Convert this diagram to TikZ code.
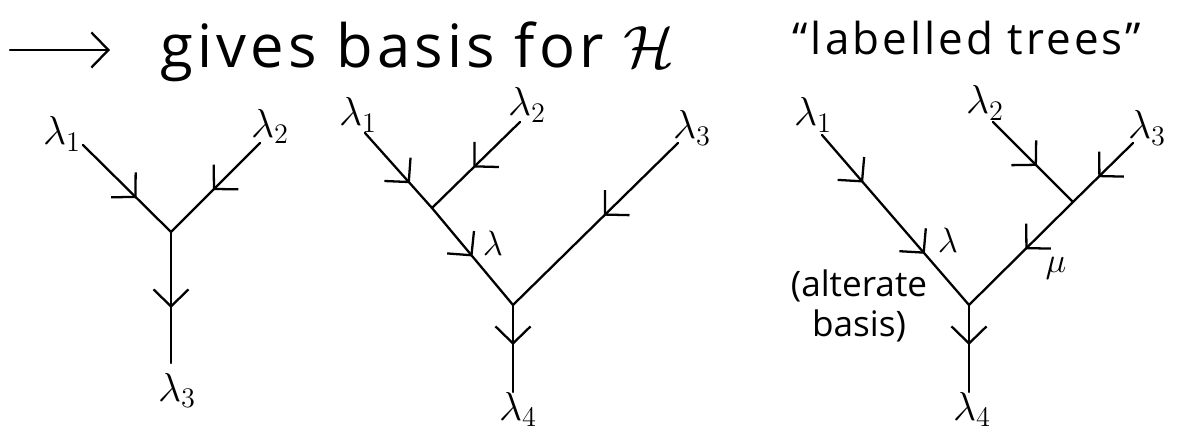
\documentclass[tikz,border=0pt]{standalone}
\usepackage{fix-cm}
\usepackage{fontspec}
\setmainfont{Open Sans}
\newfontfamily\handfont[LetterSpace=7]{Open Sans}
\usetikzlibrary{arrows.meta,decorations.markings}

\begin{document}
\begin{tikzpicture}[
  x=0.2mm,y=-0.2mm,
  edge/.style={line width=1.3pt,line cap=round,line join=round},
  midarr/.style={postaction={decorate,decoration={markings,
    mark=at position #1 with {\arrow{Straight Barb[length=3.4mm,width=7mm]}}}}},
  lab/.style={inner sep=1pt,font=\fontsize{23}{28}\selectfont},
  sml/.style={inner sep=1pt,font=\fontsize{20}{24}\selectfont},
  head/.style={inner sep=0pt,anchor=base west},
]
\useasboundingbox (0,0) rectangle (1178,434);

% heading
\coordinate (arrs) at (10,50);
\coordinate (arre) at (110,50);
\draw[edge,-{Straight Barb[length=3.4mm,width=7mm]}] (arrs) -- (arre);
\node[head,font=\handfont\fontsize{34}{40}\selectfont] (gives) at (160,68) {gives basis for $\mathcal{H}$};
\node[head,font=\handfont\fontsize{25}{30}\selectfont] (trees) at (792,55) {“labelled trees”};

% first tree
\node[lab] (t1l1) at (62,134) {$\lambda_1$};
\node[lab] (t1l2) at (270,126) {$\lambda_2$};
\node[lab] (t1l3) at (177,390) {$\lambda_3$};
\coordinate (t1a) at (83,145);
\coordinate (t1b) at (260,143);
\coordinate (t1j) at (171,232);
\coordinate (t1r) at (171,363);

% second tree
\node[lab] (t2l1) at (358,115) {$\lambda_1$};
\node[lab] (t2l2) at (527,105) {$\lambda_2$};
\node[lab] (t2l3) at (692,128) {$\lambda_3$};
\node[lab] (t2l4) at (518,409) {$\lambda_4$};
\node[sml] (t2lam) at (493,243) {$\lambda$};
\coordinate (t2a) at (365,133);
\coordinate (t2b) at (520,122);
\coordinate (t2c) at (678,143);
\coordinate (t2j) at (432,208);
\coordinate (t2k) at (513,305);
\coordinate (t2r) at (513,392);

% third tree
\node[lab] (t3l1) at (813,115) {$\lambda_1$};
\node[lab] (t3l2) at (985,103) {$\lambda_2$};
\node[lab] (t3l3) at (1147,128) {$\lambda_3$};
\node[lab] (t3l4) at (972,409) {$\lambda_4$};
\node[sml] (t3lam) at (948,240) {$\lambda$};
\node[sml] (t3mu) at (1056,268) {$\mu$};
\node[align=center,inner sep=0pt,font=\fontsize{20}{23}\selectfont] (alt) at (859,306) {(alterate\\basis)};
\coordinate (t3a) at (822,135);
\coordinate (t3b) at (993,122);
\coordinate (t3c) at (1133,143);
\coordinate (t3j) at (1073,202);
\coordinate (t3k) at (969,305);
\coordinate (t3r) at (969,392);

\foreach \s/\t/\p in {t1a/t1j/0.61,t1b/t1j/0.53,t1j/t1r/0.58,
    t2a/t2j/0.67,t2b/t2j/0.53,t2j/t2k/0.5,t2c/t2k/0.45,t2k/t2r/0.46,
    t3b/t3j/0.55,t3c/t3j/0.58,t3j/t3k/0.46,t3k/t3r/0.46}{
  \draw[edge,midarr=\p] (\s) -- (\t);
}
\draw[edge,midarr=0.28,midarr=0.7] (t3a) -- (t3k);
\end{tikzpicture}
\end{document}
